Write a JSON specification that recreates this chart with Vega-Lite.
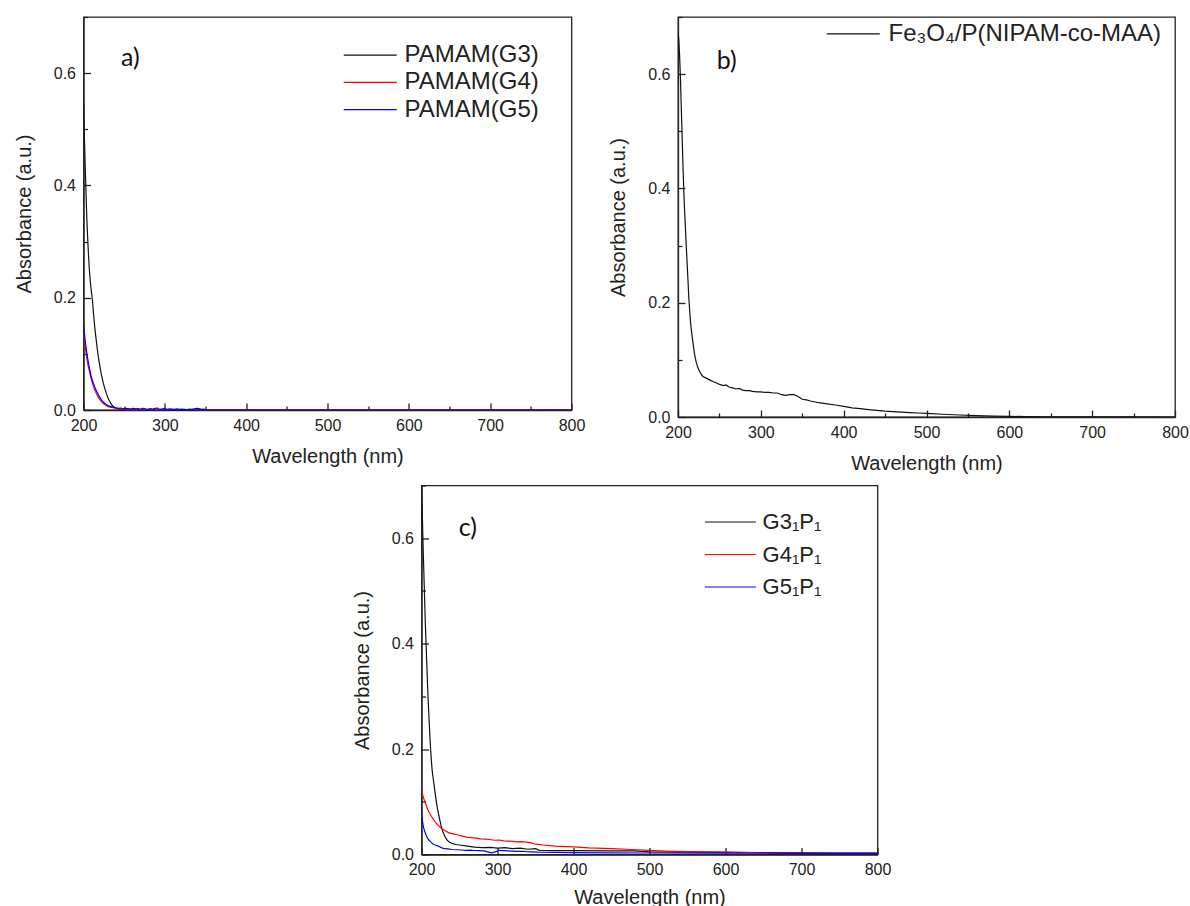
{
  "$schema": "https://vega.github.io/schema/vega-lite/v6.json",
  "background": "white",
  "autosize": {"type": "pad"},
  "padding": {"left": 13.5, "top": 15, "right": 5, "bottom": 5},
  "config": {
    "view": {"stroke": "#222", "strokeWidth": 1.3},
    "axis": {
      "grid": false, "labelFlush": false,
      "labelFont": "Liberation Sans", "labelFontSize": 16, "labelColor": "#222",
      "titleFont": "Liberation Sans", "titleFontSize": 20, "titleFontWeight": "normal", "titleColor": "#222",
      "tickColor": "#222", "tickWidth": 1.3, "domainColor": "#222", "domainWidth": 1.3
    },
    "legend": {
      "labelFont": "Liberation Sans", "labelFontSize": 24, "labelColor": "#222", "labelLimit": 400,
      "symbolType": "M-2,0L2,0", "symbolSize": 702, "symbolStrokeWidth": 1.5,
      "labelOffset": 20.25, "rowPadding": 1.2, "orient": "none"
    },
    "line": {"strokeWidth": 1.2},
    "text": {"font": "Lato", "fontSize": 25, "color": "#111"}
  },
  "datasets": {
    "pa": [
      {"s":"PAMAM(G3)","w":200,"a":0.546},{"s":"PAMAM(G3)","w":201,"a":0.49},{"s":"PAMAM(G3)","w":202,"a":0.44},{"s":"PAMAM(G3)","w":203,"a":0.39},{"s":"PAMAM(G3)","w":204,"a":0.345},{"s":"PAMAM(G3)","w":205,"a":0.31},{"s":"PAMAM(G3)","w":206,"a":0.28},{"s":"PAMAM(G3)","w":207,"a":0.255},{"s":"PAMAM(G3)","w":208,"a":0.235},{"s":"PAMAM(G3)","w":209,"a":0.22},{"s":"PAMAM(G3)","w":210,"a":0.207},{"s":"PAMAM(G3)","w":211,"a":0.195},{"s":"PAMAM(G3)","w":212,"a":0.177},{"s":"PAMAM(G3)","w":213,"a":0.16},{"s":"PAMAM(G3)","w":214,"a":0.145},{"s":"PAMAM(G3)","w":215,"a":0.132},{"s":"PAMAM(G3)","w":216,"a":0.12},{"s":"PAMAM(G3)","w":217,"a":0.108},{"s":"PAMAM(G3)","w":218,"a":0.097},{"s":"PAMAM(G3)","w":219,"a":0.088},{"s":"PAMAM(G3)","w":220,"a":0.079},{"s":"PAMAM(G3)","w":222,"a":0.063},{"s":"PAMAM(G3)","w":224,"a":0.05},{"s":"PAMAM(G3)","w":226,"a":0.039},{"s":"PAMAM(G3)","w":228,"a":0.03},{"s":"PAMAM(G3)","w":230,"a":0.022},{"s":"PAMAM(G3)","w":232,"a":0.016},{"s":"PAMAM(G3)","w":234,"a":0.011},{"s":"PAMAM(G3)","w":236,"a":0.007},{"s":"PAMAM(G3)","w":238,"a":0.005},{"s":"PAMAM(G3)","w":240,"a":0.003},{"s":"PAMAM(G3)","w":245,"a":0.0015},{"s":"PAMAM(G3)","w":250,"a":0.0008},{"s":"PAMAM(G3)","w":260,"a":0.0003},{"s":"PAMAM(G3)","w":300,"a":0.0002},{"s":"PAMAM(G3)","w":350,"a":0.0001},{"s":"PAMAM(G3)","w":400,"a":0},{"s":"PAMAM(G3)","w":600,"a":0},{"s":"PAMAM(G3)","w":800,"a":0},
      {"s":"PAMAM(G4)","w":200,"a":0.137},{"s":"PAMAM(G4)","w":201,"a":0.125},{"s":"PAMAM(G4)","w":202,"a":0.113},{"s":"PAMAM(G4)","w":203,"a":0.103},{"s":"PAMAM(G4)","w":204,"a":0.093},{"s":"PAMAM(G4)","w":205,"a":0.084},{"s":"PAMAM(G4)","w":206,"a":0.077},{"s":"PAMAM(G4)","w":207,"a":0.07},{"s":"PAMAM(G4)","w":208,"a":0.064},{"s":"PAMAM(G4)","w":209,"a":0.058},{"s":"PAMAM(G4)","w":210,"a":0.053},{"s":"PAMAM(G4)","w":211,"a":0.048},{"s":"PAMAM(G4)","w":212,"a":0.043},{"s":"PAMAM(G4)","w":213,"a":0.039},{"s":"PAMAM(G4)","w":214,"a":0.035},{"s":"PAMAM(G4)","w":215,"a":0.032},{"s":"PAMAM(G4)","w":216,"a":0.029},{"s":"PAMAM(G4)","w":217,"a":0.026},{"s":"PAMAM(G4)","w":218,"a":0.023},{"s":"PAMAM(G4)","w":219,"a":0.021},{"s":"PAMAM(G4)","w":220,"a":0.019},{"s":"PAMAM(G4)","w":222,"a":0.015},{"s":"PAMAM(G4)","w":224,"a":0.012},{"s":"PAMAM(G4)","w":226,"a":0.01},{"s":"PAMAM(G4)","w":228,"a":0.008},{"s":"PAMAM(G4)","w":230,"a":0.006},{"s":"PAMAM(G4)","w":233,"a":0.005},{"s":"PAMAM(G4)","w":236,"a":0.004},{"s":"PAMAM(G4)","w":240,"a":0.003},{"s":"PAMAM(G4)","w":245,"a":0.002},{"s":"PAMAM(G4)","w":250,"a":0.0015},{"s":"PAMAM(G4)","w":255,"a":0.001},{"s":"PAMAM(G4)","w":260,"a":0.0012},{"s":"PAMAM(G4)","w":270,"a":0.0005},{"s":"PAMAM(G4)","w":280,"a":0.0006},{"s":"PAMAM(G4)","w":300,"a":0.0002},{"s":"PAMAM(G4)","w":400,"a":0},{"s":"PAMAM(G4)","w":800,"a":0},
      {"s":"PAMAM(G5)","w":200,"a":0.152},{"s":"PAMAM(G5)","w":201,"a":0.138},{"s":"PAMAM(G5)","w":202,"a":0.125},{"s":"PAMAM(G5)","w":203,"a":0.113},{"s":"PAMAM(G5)","w":204,"a":0.102},{"s":"PAMAM(G5)","w":205,"a":0.093},{"s":"PAMAM(G5)","w":206,"a":0.085},{"s":"PAMAM(G5)","w":207,"a":0.077},{"s":"PAMAM(G5)","w":208,"a":0.07},{"s":"PAMAM(G5)","w":209,"a":0.063},{"s":"PAMAM(G5)","w":210,"a":0.057},{"s":"PAMAM(G5)","w":211,"a":0.052},{"s":"PAMAM(G5)","w":212,"a":0.048},{"s":"PAMAM(G5)","w":213,"a":0.044},{"s":"PAMAM(G5)","w":214,"a":0.04},{"s":"PAMAM(G5)","w":215,"a":0.037},{"s":"PAMAM(G5)","w":216,"a":0.034},{"s":"PAMAM(G5)","w":217,"a":0.031},{"s":"PAMAM(G5)","w":218,"a":0.028},{"s":"PAMAM(G5)","w":219,"a":0.025},{"s":"PAMAM(G5)","w":220,"a":0.023},{"s":"PAMAM(G5)","w":222,"a":0.018},{"s":"PAMAM(G5)","w":224,"a":0.015},{"s":"PAMAM(G5)","w":226,"a":0.012},{"s":"PAMAM(G5)","w":228,"a":0.01},{"s":"PAMAM(G5)","w":230,"a":0.008},{"s":"PAMAM(G5)","w":232,"a":0.007},{"s":"PAMAM(G5)","w":234,"a":0.006},{"s":"PAMAM(G5)","w":236,"a":0.005},{"s":"PAMAM(G5)","w":238,"a":0.0045},{"s":"PAMAM(G5)","w":240,"a":0.004},{"s":"PAMAM(G5)","w":243,"a":0.003},{"s":"PAMAM(G5)","w":246,"a":0.0035},{"s":"PAMAM(G5)","w":249,"a":0.002},{"s":"PAMAM(G5)","w":252,"a":0.003},{"s":"PAMAM(G5)","w":255,"a":0.0025},{"s":"PAMAM(G5)","w":258,"a":0.0015},{"s":"PAMAM(G5)","w":261,"a":0.003},{"s":"PAMAM(G5)","w":264,"a":0.002},{"s":"PAMAM(G5)","w":267,"a":0.0025},{"s":"PAMAM(G5)","w":270,"a":0.0015},{"s":"PAMAM(G5)","w":273,"a":0.003},{"s":"PAMAM(G5)","w":276,"a":0.002},{"s":"PAMAM(G5)","w":279,"a":0.001},{"s":"PAMAM(G5)","w":282,"a":0.0025},{"s":"PAMAM(G5)","w":285,"a":0.0015},{"s":"PAMAM(G5)","w":288,"a":0.003},{"s":"PAMAM(G5)","w":291,"a":0.0035},{"s":"PAMAM(G5)","w":294,"a":0.001},{"s":"PAMAM(G5)","w":297,"a":0.002},{"s":"PAMAM(G5)","w":300,"a":0.0025},{"s":"PAMAM(G5)","w":303,"a":0.001},{"s":"PAMAM(G5)","w":306,"a":0.002},{"s":"PAMAM(G5)","w":309,"a":0.0015},{"s":"PAMAM(G5)","w":312,"a":0.001},{"s":"PAMAM(G5)","w":315,"a":0.002},{"s":"PAMAM(G5)","w":318,"a":0.001},{"s":"PAMAM(G5)","w":321,"a":0.0015},{"s":"PAMAM(G5)","w":324,"a":0.001},{"s":"PAMAM(G5)","w":327,"a":0.0005},{"s":"PAMAM(G5)","w":330,"a":0.0015},{"s":"PAMAM(G5)","w":333,"a":0.001},{"s":"PAMAM(G5)","w":336,"a":0.002},{"s":"PAMAM(G5)","w":339,"a":0.003},{"s":"PAMAM(G5)","w":342,"a":0.0025},{"s":"PAMAM(G5)","w":345,"a":0.001},{"s":"PAMAM(G5)","w":348,"a":0.0015},{"s":"PAMAM(G5)","w":350,"a":0.0005},{"s":"PAMAM(G5)","w":352,"a":0},{"s":"PAMAM(G5)","w":500,"a":0},{"s":"PAMAM(G5)","w":800,"a":0}
    ],
    "pb": [
      {"s":"Fe₃O₄/P(NIPAM-co-MAA)","w":200,"a":0.672},{"s":"Fe₃O₄/P(NIPAM-co-MAA)","w":201,"a":0.66},{"s":"Fe₃O₄/P(NIPAM-co-MAA)","w":202,"a":0.63},{"s":"Fe₃O₄/P(NIPAM-co-MAA)","w":203,"a":0.59},{"s":"Fe₃O₄/P(NIPAM-co-MAA)","w":204,"a":0.54},{"s":"Fe₃O₄/P(NIPAM-co-MAA)","w":205,"a":0.49},{"s":"Fe₃O₄/P(NIPAM-co-MAA)","w":206,"a":0.44},{"s":"Fe₃O₄/P(NIPAM-co-MAA)","w":207,"a":0.395},{"s":"Fe₃O₄/P(NIPAM-co-MAA)","w":208,"a":0.36},{"s":"Fe₃O₄/P(NIPAM-co-MAA)","w":209,"a":0.33},{"s":"Fe₃O₄/P(NIPAM-co-MAA)","w":210,"a":0.298},{"s":"Fe₃O₄/P(NIPAM-co-MAA)","w":211,"a":0.27},{"s":"Fe₃O₄/P(NIPAM-co-MAA)","w":212,"a":0.24},{"s":"Fe₃O₄/P(NIPAM-co-MAA)","w":213,"a":0.21},{"s":"Fe₃O₄/P(NIPAM-co-MAA)","w":214,"a":0.188},{"s":"Fe₃O₄/P(NIPAM-co-MAA)","w":215,"a":0.168},{"s":"Fe₃O₄/P(NIPAM-co-MAA)","w":216,"a":0.154},{"s":"Fe₃O₄/P(NIPAM-co-MAA)","w":217,"a":0.142},{"s":"Fe₃O₄/P(NIPAM-co-MAA)","w":218,"a":0.131},{"s":"Fe₃O₄/P(NIPAM-co-MAA)","w":219,"a":0.12},{"s":"Fe₃O₄/P(NIPAM-co-MAA)","w":220,"a":0.11},{"s":"Fe₃O₄/P(NIPAM-co-MAA)","w":221,"a":0.102},{"s":"Fe₃O₄/P(NIPAM-co-MAA)","w":222,"a":0.096},{"s":"Fe₃O₄/P(NIPAM-co-MAA)","w":224,"a":0.086},{"s":"Fe₃O₄/P(NIPAM-co-MAA)","w":226,"a":0.08},{"s":"Fe₃O₄/P(NIPAM-co-MAA)","w":228,"a":0.075},{"s":"Fe₃O₄/P(NIPAM-co-MAA)","w":230,"a":0.071},{"s":"Fe₃O₄/P(NIPAM-co-MAA)","w":234,"a":0.068},{"s":"Fe₃O₄/P(NIPAM-co-MAA)","w":238,"a":0.065},{"s":"Fe₃O₄/P(NIPAM-co-MAA)","w":242,"a":0.062},{"s":"Fe₃O₄/P(NIPAM-co-MAA)","w":246,"a":0.06},{"s":"Fe₃O₄/P(NIPAM-co-MAA)","w":250,"a":0.057},{"s":"Fe₃O₄/P(NIPAM-co-MAA)","w":255,"a":0.055},{"s":"Fe₃O₄/P(NIPAM-co-MAA)","w":258,"a":0.056},{"s":"Fe₃O₄/P(NIPAM-co-MAA)","w":262,"a":0.052},{"s":"Fe₃O₄/P(NIPAM-co-MAA)","w":266,"a":0.051},{"s":"Fe₃O₄/P(NIPAM-co-MAA)","w":270,"a":0.049},{"s":"Fe₃O₄/P(NIPAM-co-MAA)","w":274,"a":0.05},{"s":"Fe₃O₄/P(NIPAM-co-MAA)","w":278,"a":0.047},{"s":"Fe₃O₄/P(NIPAM-co-MAA)","w":282,"a":0.046},{"s":"Fe₃O₄/P(NIPAM-co-MAA)","w":286,"a":0.046},{"s":"Fe₃O₄/P(NIPAM-co-MAA)","w":290,"a":0.045},{"s":"Fe₃O₄/P(NIPAM-co-MAA)","w":295,"a":0.044},{"s":"Fe₃O₄/P(NIPAM-co-MAA)","w":300,"a":0.044},{"s":"Fe₃O₄/P(NIPAM-co-MAA)","w":305,"a":0.043},{"s":"Fe₃O₄/P(NIPAM-co-MAA)","w":310,"a":0.043},{"s":"Fe₃O₄/P(NIPAM-co-MAA)","w":315,"a":0.042},{"s":"Fe₃O₄/P(NIPAM-co-MAA)","w":320,"a":0.042},{"s":"Fe₃O₄/P(NIPAM-co-MAA)","w":325,"a":0.039},{"s":"Fe₃O₄/P(NIPAM-co-MAA)","w":330,"a":0.038},{"s":"Fe₃O₄/P(NIPAM-co-MAA)","w":335,"a":0.039},{"s":"Fe₃O₄/P(NIPAM-co-MAA)","w":340,"a":0.039},{"s":"Fe₃O₄/P(NIPAM-co-MAA)","w":345,"a":0.036},{"s":"Fe₃O₄/P(NIPAM-co-MAA)","w":350,"a":0.031},{"s":"Fe₃O₄/P(NIPAM-co-MAA)","w":355,"a":0.03},{"s":"Fe₃O₄/P(NIPAM-co-MAA)","w":360,"a":0.028},{"s":"Fe₃O₄/P(NIPAM-co-MAA)","w":370,"a":0.025},{"s":"Fe₃O₄/P(NIPAM-co-MAA)","w":380,"a":0.023},{"s":"Fe₃O₄/P(NIPAM-co-MAA)","w":390,"a":0.021},{"s":"Fe₃O₄/P(NIPAM-co-MAA)","w":400,"a":0.0186},{"s":"Fe₃O₄/P(NIPAM-co-MAA)","w":410,"a":0.016},{"s":"Fe₃O₄/P(NIPAM-co-MAA)","w":420,"a":0.0145},{"s":"Fe₃O₄/P(NIPAM-co-MAA)","w":430,"a":0.013},{"s":"Fe₃O₄/P(NIPAM-co-MAA)","w":440,"a":0.0115},{"s":"Fe₃O₄/P(NIPAM-co-MAA)","w":450,"a":0.0102},{"s":"Fe₃O₄/P(NIPAM-co-MAA)","w":460,"a":0.0094},{"s":"Fe₃O₄/P(NIPAM-co-MAA)","w":470,"a":0.0085},{"s":"Fe₃O₄/P(NIPAM-co-MAA)","w":480,"a":0.0077},{"s":"Fe₃O₄/P(NIPAM-co-MAA)","w":490,"a":0.007},{"s":"Fe₃O₄/P(NIPAM-co-MAA)","w":500,"a":0.0062},{"s":"Fe₃O₄/P(NIPAM-co-MAA)","w":520,"a":0.0048},{"s":"Fe₃O₄/P(NIPAM-co-MAA)","w":540,"a":0.0035},{"s":"Fe₃O₄/P(NIPAM-co-MAA)","w":560,"a":0.0025},{"s":"Fe₃O₄/P(NIPAM-co-MAA)","w":580,"a":0.0017},{"s":"Fe₃O₄/P(NIPAM-co-MAA)","w":600,"a":0.0011},{"s":"Fe₃O₄/P(NIPAM-co-MAA)","w":620,"a":0.0007},{"s":"Fe₃O₄/P(NIPAM-co-MAA)","w":650,"a":0.0004},{"s":"Fe₃O₄/P(NIPAM-co-MAA)","w":700,"a":0.0002},{"s":"Fe₃O₄/P(NIPAM-co-MAA)","w":750,"a":0.0001},{"s":"Fe₃O₄/P(NIPAM-co-MAA)","w":800,"a":0}
    ],
    "pc": [
      {"s":"G3₁P₁","w":200,"a":0.698},{"s":"G3₁P₁","w":201,"a":0.65},{"s":"G3₁P₁","w":202,"a":0.59},{"s":"G3₁P₁","w":203,"a":0.54},{"s":"G3₁P₁","w":204,"a":0.49},{"s":"G3₁P₁","w":205,"a":0.44},{"s":"G3₁P₁","w":206,"a":0.4},{"s":"G3₁P₁","w":207,"a":0.36},{"s":"G3₁P₁","w":208,"a":0.32},{"s":"G3₁P₁","w":209,"a":0.286},{"s":"G3₁P₁","w":210,"a":0.255},{"s":"G3₁P₁","w":211,"a":0.225},{"s":"G3₁P₁","w":212,"a":0.2},{"s":"G3₁P₁","w":213,"a":0.178},{"s":"G3₁P₁","w":214,"a":0.16},{"s":"G3₁P₁","w":215,"a":0.148},{"s":"G3₁P₁","w":216,"a":0.138},{"s":"G3₁P₁","w":217,"a":0.127},{"s":"G3₁P₁","w":218,"a":0.116},{"s":"G3₁P₁","w":219,"a":0.106},{"s":"G3₁P₁","w":220,"a":0.096},{"s":"G3₁P₁","w":221,"a":0.087},{"s":"G3₁P₁","w":222,"a":0.08},{"s":"G3₁P₁","w":224,"a":0.066},{"s":"G3₁P₁","w":226,"a":0.053},{"s":"G3₁P₁","w":228,"a":0.044},{"s":"G3₁P₁","w":230,"a":0.037},{"s":"G3₁P₁","w":232,"a":0.031},{"s":"G3₁P₁","w":234,"a":0.027},{"s":"G3₁P₁","w":236,"a":0.024},{"s":"G3₁P₁","w":240,"a":0.021},{"s":"G3₁P₁","w":245,"a":0.019},{"s":"G3₁P₁","w":250,"a":0.018},{"s":"G3₁P₁","w":260,"a":0.016},{"s":"G3₁P₁","w":270,"a":0.014},{"s":"G3₁P₁","w":280,"a":0.013},{"s":"G3₁P₁","w":290,"a":0.0135},{"s":"G3₁P₁","w":300,"a":0.012},{"s":"G3₁P₁","w":310,"a":0.013},{"s":"G3₁P₁","w":320,"a":0.011},{"s":"G3₁P₁","w":330,"a":0.012},{"s":"G3₁P₁","w":340,"a":0.01},{"s":"G3₁P₁","w":350,"a":0.011},{"s":"G3₁P₁","w":355,"a":0.008},{"s":"G3₁P₁","w":400,"a":0.0075},{"s":"G3₁P₁","w":450,"a":0.007},{"s":"G3₁P₁","w":480,"a":0.0068},{"s":"G3₁P₁","w":490,"a":0.006},{"s":"G3₁P₁","w":500,"a":0.005},{"s":"G3₁P₁","w":550,"a":0.0045},{"s":"G3₁P₁","w":600,"a":0.004},{"s":"G3₁P₁","w":650,"a":0.0035},{"s":"G3₁P₁","w":700,"a":0.003},{"s":"G3₁P₁","w":750,"a":0.0028},{"s":"G3₁P₁","w":800,"a":0.0025},
      {"s":"G4₁P₁","w":200,"a":0.124},{"s":"G4₁P₁","w":201,"a":0.117},{"s":"G4₁P₁","w":202,"a":0.111},{"s":"G4₁P₁","w":203,"a":0.106},{"s":"G4₁P₁","w":204,"a":0.102},{"s":"G4₁P₁","w":206,"a":0.094},{"s":"G4₁P₁","w":208,"a":0.086},{"s":"G4₁P₁","w":210,"a":0.08},{"s":"G4₁P₁","w":212,"a":0.075},{"s":"G4₁P₁","w":215,"a":0.068},{"s":"G4₁P₁","w":218,"a":0.062},{"s":"G4₁P₁","w":222,"a":0.055},{"s":"G4₁P₁","w":226,"a":0.05},{"s":"G4₁P₁","w":230,"a":0.046},{"s":"G4₁P₁","w":236,"a":0.041},{"s":"G4₁P₁","w":242,"a":0.039},{"s":"G4₁P₁","w":248,"a":0.037},{"s":"G4₁P₁","w":254,"a":0.035},{"s":"G4₁P₁","w":260,"a":0.033},{"s":"G4₁P₁","w":266,"a":0.032},{"s":"G4₁P₁","w":272,"a":0.031},{"s":"G4₁P₁","w":278,"a":0.0295},{"s":"G4₁P₁","w":284,"a":0.029},{"s":"G4₁P₁","w":290,"a":0.0285},{"s":"G4₁P₁","w":296,"a":0.027},{"s":"G4₁P₁","w":302,"a":0.0275},{"s":"G4₁P₁","w":308,"a":0.026},{"s":"G4₁P₁","w":314,"a":0.0255},{"s":"G4₁P₁","w":320,"a":0.025},{"s":"G4₁P₁","w":326,"a":0.024},{"s":"G4₁P₁","w":332,"a":0.0245},{"s":"G4₁P₁","w":338,"a":0.0235},{"s":"G4₁P₁","w":344,"a":0.022},{"s":"G4₁P₁","w":350,"a":0.0195},{"s":"G4₁P₁","w":360,"a":0.018},{"s":"G4₁P₁","w":376,"a":0.016},{"s":"G4₁P₁","w":400,"a":0.0145},{"s":"G4₁P₁","w":420,"a":0.0127},{"s":"G4₁P₁","w":450,"a":0.011},{"s":"G4₁P₁","w":477,"a":0.0095},{"s":"G4₁P₁","w":500,"a":0.0078},{"s":"G4₁P₁","w":521,"a":0.0065},{"s":"G4₁P₁","w":550,"a":0.0055},{"s":"G4₁P₁","w":600,"a":0.0044},{"s":"G4₁P₁","w":650,"a":0.0033},{"s":"G4₁P₁","w":700,"a":0.0025},{"s":"G4₁P₁","w":750,"a":0.0022},{"s":"G4₁P₁","w":800,"a":0.002},
      {"s":"G5₁P₁","w":200,"a":0.076},{"s":"G5₁P₁","w":201,"a":0.066},{"s":"G5₁P₁","w":202,"a":0.057},{"s":"G5₁P₁","w":203,"a":0.05},{"s":"G5₁P₁","w":204,"a":0.045},{"s":"G5₁P₁","w":206,"a":0.037},{"s":"G5₁P₁","w":208,"a":0.031},{"s":"G5₁P₁","w":210,"a":0.027},{"s":"G5₁P₁","w":212,"a":0.024},{"s":"G5₁P₁","w":215,"a":0.02},{"s":"G5₁P₁","w":218,"a":0.018},{"s":"G5₁P₁","w":222,"a":0.016},{"s":"G5₁P₁","w":226,"a":0.013},{"s":"G5₁P₁","w":230,"a":0.011},{"s":"G5₁P₁","w":235,"a":0.0105},{"s":"G5₁P₁","w":240,"a":0.0095},{"s":"G5₁P₁","w":246,"a":0.009},{"s":"G5₁P₁","w":252,"a":0.0085},{"s":"G5₁P₁","w":258,"a":0.008},{"s":"G5₁P₁","w":264,"a":0.0082},{"s":"G5₁P₁","w":270,"a":0.0076},{"s":"G5₁P₁","w":276,"a":0.0075},{"s":"G5₁P₁","w":282,"a":0.007},{"s":"G5₁P₁","w":287,"a":0.005},{"s":"G5₁P₁","w":292,"a":0.003},{"s":"G5₁P₁","w":297,"a":0.005},{"s":"G5₁P₁","w":302,"a":0.008},{"s":"G5₁P₁","w":308,"a":0.0075},{"s":"G5₁P₁","w":314,"a":0.007},{"s":"G5₁P₁","w":320,"a":0.0065},{"s":"G5₁P₁","w":326,"a":0.006},{"s":"G5₁P₁","w":332,"a":0.0062},{"s":"G5₁P₁","w":338,"a":0.0055},{"s":"G5₁P₁","w":344,"a":0.005},{"s":"G5₁P₁","w":354,"a":0.0044},{"s":"G5₁P₁","w":400,"a":0.0035},{"s":"G5₁P₁","w":450,"a":0.003},{"s":"G5₁P₁","w":500,"a":0.0028},{"s":"G5₁P₁","w":600,"a":0.0025},{"s":"G5₁P₁","w":700,"a":0.0022},{"s":"G5₁P₁","w":800,"a":0.002}
    ]
  },
  "resolve": {"scale": {"color": "independent"}, "legend": {"color": "independent"}},
  "spacing": 8.5,
  "vconcat": [
    {
      "bounds": "flush",
      "spacing": 106.5,
      "resolve": {"scale": {"color": "independent"}, "legend": {"color": "independent"}},
      "hconcat": [
        {
          "width": 488, "height": 393,
          "layer": [
            {
              "data": {"name": "pa"},
              "mark": {"type": "line", "clip": true},
              "encoding": {
                "x": {"field": "w", "type": "quantitative", "scale": {"domain": [200, 800], "nice": false}, "title": "Wavelength (nm)",
                  "axis": {"values": [200,250,300,350,400,450,500,550,600,650,700,750,800], "labelExpr": "datum.value % 100 == 0 ? datum.label : ''", "tickSize": {"condition": {"test": "datum.value % 100 == 0", "value": -7}, "value": -4}, "labelPadding": 14, "titlePadding": 13.5}},
                "y": {"field": "a", "type": "quantitative", "scale": {"domain": [0, 0.7], "nice": false}, "title": "Absorbance (a.u.)",
                  "axis": {"values": [0,0.1,0.2,0.3,0.4,0.5,0.6,0.7], "labelExpr": "round(datum.value*10) % 2 == 0 && datum.value < 0.65 ? format(datum.value, '.1f') : ''", "tickSize": {"condition": {"test": "round(datum.value*10) % 2 == 0", "value": -7}, "value": -4}, "labelPadding": 15, "titlePadding": 19}},
                "color": {"field": "s", "type": "nominal", "scale": {"domain": ["PAMAM(G3)", "PAMAM(G4)", "PAMAM(G5)"], "range": ["#111111", "#ff0000", "#0000ff"]},
                  "legend": {"title": null, "legendX": 272.75, "legendY": 24.2,
                    "encode": {"symbols": {"update": {"stroke": {"signal": "datum.value == 'PAMAM(G4)' ? '#ff2020' : datum.value == 'PAMAM(G5)' ? '#2020ff' : '#222222'"}}}}}}
              }
            },
            {
              "data": {"values": [{}]},
              "mark": {"type": "text", "align": "left", "baseline": "alphabetic"},
              "encoding": {"x": {"datum": 246}, "y": {"datum": 0.6127}, "text": {"value": "a)"}}
            }
          ]
        },
        {
          "width": 497, "height": 400,
          "layer": [
            {
              "data": {"name": "pb"},
              "mark": {"type": "line", "clip": true},
              "encoding": {
                "x": {"field": "w", "type": "quantitative", "scale": {"domain": [200, 800], "nice": false}, "title": "Wavelength (nm)",
                  "axis": {"values": [200,250,300,350,400,450,500,550,600,650,700,750,800], "labelExpr": "datum.value % 100 == 0 ? datum.label : ''", "tickSize": {"condition": {"test": "datum.value % 100 == 0", "value": -7}, "value": -4}, "labelPadding": 14, "titlePadding": 13.5}},
                "y": {"field": "a", "type": "quantitative", "scale": {"domain": [0, 0.7], "nice": false}, "title": "Absorbance (a.u.)",
                  "axis": {"values": [0,0.1,0.2,0.3,0.4,0.5,0.6,0.7], "labelExpr": "round(datum.value*10) % 2 == 0 && datum.value < 0.65 ? format(datum.value, '.1f') : ''", "tickSize": {"condition": {"test": "round(datum.value*10) % 2 == 0", "value": -7}, "value": -4}, "labelPadding": 15, "titlePadding": 19}},
                "color": {"field": "s", "type": "nominal", "scale": {"domain": ["Fe₃O₄/P(NIPAM-co-MAA)"], "range": ["#111111"]},
                  "legend": {"title": null, "legendX": 161.25, "legendY": 2.8, "labelOffset": 21.25,
                    "encode": {"symbols": {"update": {"stroke": {"value": "#222222"}}}}}}
              }
            },
            {
              "data": {"values": [{}]},
              "mark": {"type": "text", "align": "left", "baseline": "alphabetic"},
              "encoding": {"x": {"datum": 246.7}, "y": {"datum": 0.609}, "text": {"value": "b)"}}
            }
          ]
        }
      ]
    },
    {
      "bounds": "flush",
      "spacing": 0,
      "resolve": {"scale": {"color": "independent"}, "legend": {"color": "independent"}},
      "hconcat": [
        {
          "width": 338, "height": 10,
          "view": {"stroke": null},
          "data": {"values": []},
          "mark": "point"
        },
        {
          "width": 456, "height": 369,
          "layer": [
            {
              "data": {"name": "pc"},
              "mark": {"type": "line", "clip": true},
              "encoding": {
                "x": {"field": "w", "type": "quantitative", "scale": {"domain": [200, 800], "nice": false}, "title": "Wavelength (nm)",
                  "axis": {"values": [200,250,300,350,400,450,500,550,600,650,700,750,800], "labelExpr": "datum.value % 100 == 0 ? datum.label : ''", "tickSize": {"condition": {"test": "datum.value % 100 == 0", "value": -7}, "value": -4}, "labelPadding": 14, "titlePadding": 10}},
                "y": {"field": "a", "type": "quantitative", "scale": {"domain": [0, 0.7], "nice": false}, "title": "Absorbance (a.u.)",
                  "axis": {"values": [0,0.1,0.2,0.3,0.4,0.5,0.6,0.7], "labelExpr": "round(datum.value*10) % 2 == 0 && datum.value < 0.65 ? format(datum.value, '.1f') : ''", "tickSize": {"condition": {"test": "round(datum.value*10) % 2 == 0", "value": -7}, "value": -4}, "labelPadding": 15, "titlePadding": 19}},
                "color": {"field": "s", "type": "nominal", "scale": {"domain": ["G3₁P₁", "G4₁P₁", "G5₁P₁"], "range": ["#111111", "#ff0000", "#0000ff"]},
                  "legend": {"title": null, "legendX": 295.35, "legendY": 23, "labelFontSize": 22, "symbolSize": 650, "labelOffset": 18.75, "rowPadding": 7.5,
                    "encode": {"symbols": {"update": {"stroke": {"signal": "datum.value == 'G4₁P₁' ? '#ff2020' : datum.value == 'G5₁P₁' ? '#2020ff' : '#222222'"}}}}}}
              }
            },
            {
              "data": {"values": [{}]},
              "mark": {"type": "text", "align": "left", "baseline": "alphabetic"},
              "encoding": {"x": {"datum": 249}, "y": {"datum": 0.605}, "text": {"value": "c)"}}
            }
          ]
        }
      ]
    }
  ]
}
